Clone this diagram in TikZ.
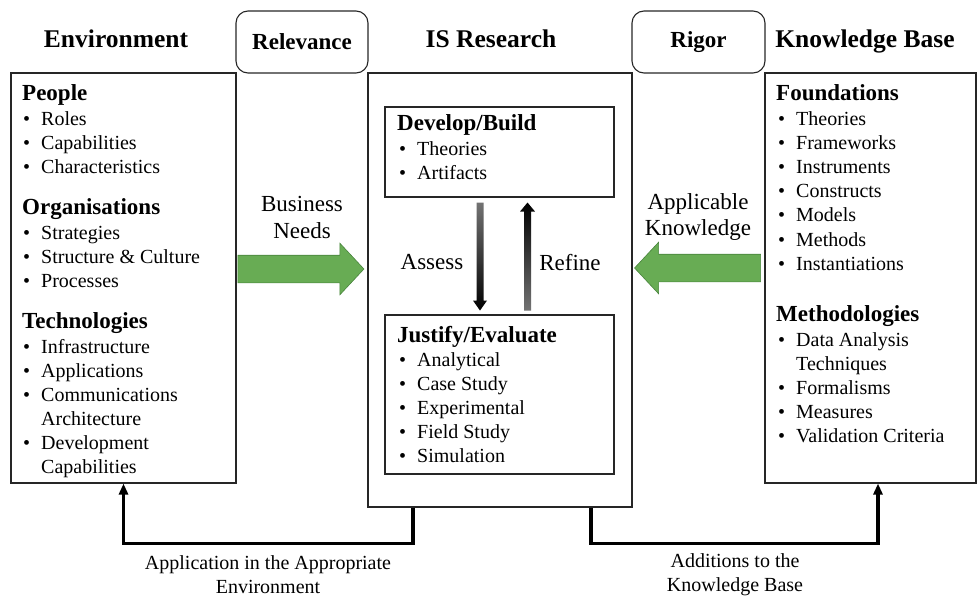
\documentclass[tikz,border=0pt]{standalone}
\usepackage{fontspec}
\setmainfont{Liberation Serif}
\usepackage{xcolor}
\usepackage{tikz}
\usetikzlibrary{arrows.meta,shapes.arrows}

\definecolor{needgreen}{RGB}{104,172,84}
\definecolor{neededge}{RGB}{72,132,60}

\newcommand{\bitem}[1]{\makebox[0pt][r]{\textbullet\hspace{11pt}}#1}

\tikzset{
  box/.style={draw=black!85, line width=1.1pt, inner sep=0pt},
  tab/.style={box, rounded corners=12pt, font=\fontsize{23}{26}\selectfont\bfseries},
  title/.style={anchor=base, inner sep=0pt, font=\fontsize{25.5}{28}\selectfont\bfseries},
  head/.style={anchor=base west, inner sep=0pt, font=\fontsize{23}{26}\selectfont\bfseries},
  entry/.style={anchor=base west, inner sep=0pt, font=\fontsize{20}{24}\selectfont},
  note/.style={align=center, inner sep=0pt, font=\fontsize{23}{27}\selectfont},
  caption/.style={align=center, inner sep=0pt, font=\fontsize{20}{24}\selectfont},
  fat/.style={single arrow, fill=needgreen, draw=neededge, line width=0.6pt, inner sep=0pt,
    text height=13.5pt, text depth=13.5pt, minimum height=126pt,
    single arrow head extend=12pt, single arrow tip angle=94},
  link/.style={line width=3.5pt, -{Triangle[length=11pt,width=9pt]}}
}

\begin{document}
\begin{tikzpicture}[x=1pt, y=-1pt]
  \useasboundingbox (0,0) rectangle (978,597);

  % the three columns and their tabs
  \node[box, minimum width=225pt, minimum height=410pt] (env) at (123.5,278) {};
  \node[box, minimum width=264pt, minimum height=434pt] (is) at (500,290) {};
  \node[box, minimum width=211pt, minimum height=410pt] (kb) at (870.5,278) {};
  \node[tab, minimum width=132pt, minimum height=62pt] (relevance) at (302,42) {Relevance};
  \node[tab, minimum width=133pt, minimum height=62pt] (rigor) at (698.5,42) {Rigor};

  \node[title] (envtitle) at (116,47) {Environment};
  \node[title] (istitle) at (491,47) {IS Research};
  \node[title] (kbtitle) at (865,47) {Knowledge Base};

  % environment
  \node[head] (people) at (22,100) {People};
  \foreach \t [count=\i from 0] in {Roles, Capabilities, Characteristics}
    \node[entry] (peo\i) at (41,125+24*\i) {\bitem{\t}};
  \node[head] (orgs) at (22,214) {Organisations};
  \foreach \t [count=\i from 0] in {Strategies, Structure \& Culture, Processes}
    \node[entry] (org\i) at (41,239+24*\i) {\bitem{\t}};
  \node[head] (techs) at (22,328) {Technologies};
  \foreach \t [count=\i from 0] in {\bitem{Infrastructure}, \bitem{Applications}, \bitem{Communications},
      Architecture, \bitem{Development}, Capabilities}
    \node[entry] (tec\i) at (41,353+24*\i) {\t};

  % knowledge base
  \node[head] (found) at (776,100) {Foundations};
  \foreach \t [count=\i from 0] in {Theories, Frameworks, Instruments, Constructs, Models, Methods, Instantiations}
    \node[entry] (fnd\i) at (796,125+24.2*\i) {\bitem{\t}};
  \node[head] (methods) at (776,321) {Methodologies};
  \foreach \t [count=\i from 0] in {\bitem{Data Analysis}, Techniques, \bitem{Formalisms}, \bitem{Measures},
      \bitem{Validation Criteria}}
    \node[entry] (mth\i) at (796,346+24.2*\i) {\t};

  % develop and evaluate loop
  \node[box, minimum width=229pt, minimum height=90pt] (dev) at (499.5,152) {};
  \node[head] (devhead) at (397,130) {Develop/Build};
  \foreach \t [count=\i from 0] in {Theories, Artifacts}
    \node[entry] (dev\i) at (417,155+24*\i) {\bitem{\t}};

  \node[box, minimum width=229pt, minimum height=159pt] (eval) at (499.5,394.5) {};
  \node[head] (evalhead) at (397,342) {Justify/Evaluate};
  \foreach \t [count=\i from 0] in {Analytical, Case Study, Experimental, Field Study, Simulation}
    \node[entry] (eval\i) at (417,366+24.2*\i) {\bitem{\t}};

  \coordinate (assess) at ([xshift=-19.5pt, yshift=-5pt]dev.south);
  \coordinate (refine) at ([xshift=28pt, yshift=-5pt]dev.south);
  \shade[top color=black!55, middle color=black, bottom color=black]
    (assess) ++(-3.5,0) -- ++(7,0) -- ++(0,98) -- ++(3.5,0) -- ++(-7,10) -- ++(-7,-10) -- ++(3.5,0) -- cycle;
  \shade[top color=black, middle color=black, bottom color=black!55]
    (refine) -- ++(7.5,9) -- ++(-4,0) -- ++(0,99) -- ++(-7,0) -- ++(0,-99) -- ++(-4,0) -- cycle;
  \node[note] (assesslbl) at (432,262) {Assess};
  \node[note] (refinelbl) at (570,263) {Refine};

  % green arrows
  \node[fat] (needs) at (294.5,269) {};
  \node[note] (needslbl) at (302,217) {Business\\Needs};
  \node[fat, shape border rotate=180] (applic) at (704,268) {};
  \node[note] (appliclbl) at (698,217) {Applicable\\Knowledge};

  % feedback lines
  \draw[link] ([xshift=-87pt]is.south) -- ++(0,36) -| (env.south);
  \draw[link] ([xshift=91pt]is.south) -- ++(0,36) -| ([xshift=7.5pt]kb.south);
  \node[caption] (applylbl) at (268,575) {Application in the Appropriate\\Environment};
  \node[caption] (addlbl) at (735,575) {Additions to the\\Knowledge Base};
\end{tikzpicture}
\end{document}
